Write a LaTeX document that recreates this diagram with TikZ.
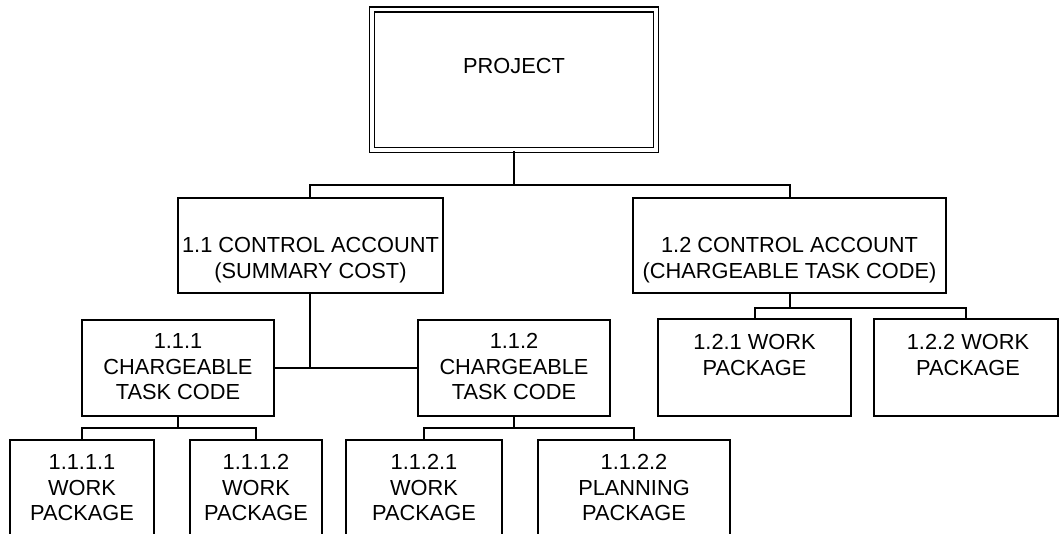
\documentclass[tikz,border=0pt]{standalone}
\usepackage{fontspec}
\setmainfont{Liberation Sans}
\newcommand\wbslines[1]{\begin{tabular}[t]{@{}c@{}}#1\end{tabular}}
\begin{document}
\begin{tikzpicture}[x=1pt,y=-1pt,
  box/.style={draw, rectangle, line width=2pt, inner sep=0pt},
  dbox/.style={draw, rectangle, double, double distance=3.4pt, line width=1.6pt, inner sep=0pt},
  txt/.style={anchor=base, inner sep=0pt, font=\fontsize{21.8}{25.5}\selectfont},
  conn/.style={line width=2pt}]
\useasboundingbox (0,0) rectangle (1059,533);
\clip (0,0) rectangle (1059,533);
\fill[white] (0,0) rectangle (1059,533);
% boxes
\node[dbox, minimum width=284pt, minimum height=140.5pt] (p) at (514,79.75) {};
\node[box, minimum width=265pt, minimum height=95pt] (a11) at (310,245.5) {};
\node[box, minimum width=313pt, minimum height=95pt] (a12) at (789.5,245.5) {};
\node[box, minimum width=192pt, minimum height=96pt] (b111) at (178,368) {};
\node[box, minimum width=192pt, minimum height=96pt] (b112) at (514,368) {};
\node[box, minimum width=193pt, minimum height=97pt] (d121) at (754.5,367.5) {};
\node[box, minimum width=184pt, minimum height=97pt] (d122) at (966,367.5) {};
\node[box, minimum width=144pt, minimum height=160pt] (c1111) at (82,520) {};
\node[box, minimum width=132pt, minimum height=160pt] (c1112) at (256,520) {};
\node[box, minimum width=156pt, minimum height=160pt] (c1121) at (424,520) {};
\node[box, minimum width=192pt, minimum height=160pt] (c1122) at (634,520) {};
% texts
\node[txt] (tp) at (514,73.5) {PROJECT};
\node[txt] (ta11) at (310.5,252.5) {\wbslines{1.1 CONTROL ACCOUNT\\(SUMMARY COST)}};
\node[txt] (ta12) at (789.5,252.5) {\wbslines{1.2 CONTROL ACCOUNT\\(CHARGEABLE TASK CODE)}};
\node[txt] (tb111) at (178,348.5) {\wbslines{1.1.1\\CHARGEABLE\\TASK CODE}};
\node[txt] (tb112) at (514,348.5) {\wbslines{1.1.2\\CHARGEABLE\\TASK CODE}};
\node[txt] (td121) at (754.5,349.5) {\wbslines{1.2.1 WORK\\PACKAGE}};
\node[txt] (td122) at (968,349.5) {\wbslines{1.2.2 WORK\\PACKAGE}};
\node[txt] (tc1111) at (82,469.5) {\wbslines{1.1.1.1\\WORK\\PACKAGE}};
\node[txt] (tc1112) at (256,469.5) {\wbslines{1.1.1.2\\WORK\\PACKAGE}};
\node[txt] (tc1121) at (424,469.5) {\wbslines{1.1.2.1\\WORK\\PACKAGE}};
\node[txt] (tc1122) at (634,469.5) {\wbslines{1.1.2.2\\PLANNING\\PACKAGE}};
% junctions
\coordinate (j0) at (514,185);
\coordinate (j12) at (789.5,308);
\coordinate (j111) at (178,428);
\coordinate (j112) at (514,428);
% connectors
\draw[conn] (p.south) -- (j0);
\draw[conn] (a11.north) |- (j0) -| (a12.north);
\draw[conn] (a11.south) -- (a11.south |- b111.east);
\draw[conn] (b111.east) -- (b112.west);
\draw[conn] (a12.south) -- (j12);
\draw[conn] (d121.north) |- (j12) -| (d122.north);
\draw[conn] (b111.south) -- (j111);
\draw[conn] (c1111.north) |- (j111) -| (c1112.north);
\draw[conn] (b112.south) -- (j112);
\draw[conn] (c1121.north) |- (j112) -| (c1122.north);
\end{tikzpicture}
\end{document}
